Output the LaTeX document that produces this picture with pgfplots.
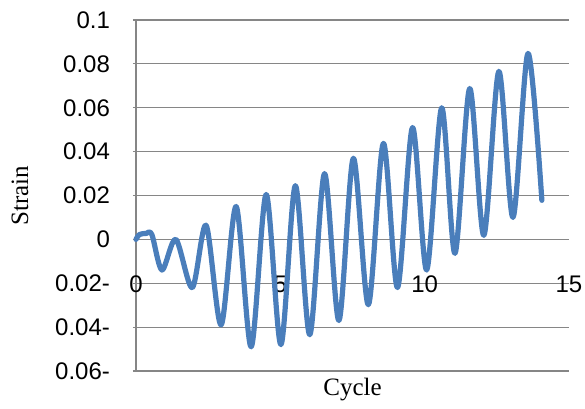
\documentclass[border=0pt]{standalone}
\usepackage{pgfplots}
\pgfplotsset{compat=1.18}
\usepackage{fontspec}
\setmainfont{Liberation Sans}
\newfontfamily\seriffont{Liberation Serif}
\definecolor{excelblue}{RGB}{74,126,187}
\definecolor{gridgray}{RGB}{134,134,134}

\begin{document}
\begin{tikzpicture}
\begin{axis}[
  scale only axis, width=216.5pt, height=175.5pt,
  xmin=0, xmax=15, ymin=-0.06, ymax=0.1,
  axis lines*=left,
  axis line style={gridgray, line width=0.6pt},
  ytick={-0.06,-0.04,-0.02,0,0.02,0.04,0.06,0.08,0.1},
  yticklabels={0.06-,0.04-,0.02-,0,0.02,0.04,0.06,0.08,0.1},
  xtick={0,5,10,15}, xticklabels={0,5,10,15},
  ymajorgrids, grid style={gridgray, line width=0.6pt},
  tick align=outside, major tick length=1.5pt,
  ytick style={gridgray, line width=0.6pt},
  xtick style={draw=none},
  tick label style={font=\fontsize{12}{14}\selectfont, black},
  yticklabel style={anchor=east, xshift=-8pt},
  xticklabel style={anchor=center, yshift=45pt},
  xlabel={\seriffont Cycle},
  ylabel={\seriffont Strain},
  label style={font=\fontsize{12.5}{15}\selectfont},
  xlabel style={at={(axis description cs:0.5,-0.054)}, anchor=center},
  ylabel style={at={(axis description cs:-0.268,0.5)}, anchor=center},
  clip=false,
]
\coordinate (sw) at (rel axis cs:0,0);
\coordinate (ne) at (rel axis cs:1,1);
\addplot[excelblue, line width=2.6pt, smooth, line cap=round, line join=round] coordinates {
(0,0)
(0.12,0.0022)
(0.35,0.0027)
(0.55,0.0022)
(0.9,-0.014)
(1.38,0.0)
(1.95,-0.022)
(2.43,0.0064)
(2.95,-0.039)
(3.47,0.015)
(3.99,-0.049)
(4.51,0.0205)
(5.02,-0.048)
(5.52,0.0245)
(6.02,-0.0435)
(6.53,0.030)
(7.03,-0.037)
(7.53,0.037)
(8.05,-0.0298)
(8.57,0.0438)
(9.06,-0.022)
(9.58,0.051)
(10.07,-0.014)
(10.59,0.060)
(11.05,-0.0064)
(11.56,0.0688)
(12.05,0.0018)
(12.57,0.0766)
(13.06,0.010)
(13.58,0.0848)
(14.06,0.0178)
};
\end{axis}
\pgfresetboundingbox
\useasboundingbox ([xshift=-68pt,yshift=-19pt]sw) rectangle ([xshift=8pt,yshift=10pt]ne);
\end{tikzpicture}
\end{document}
